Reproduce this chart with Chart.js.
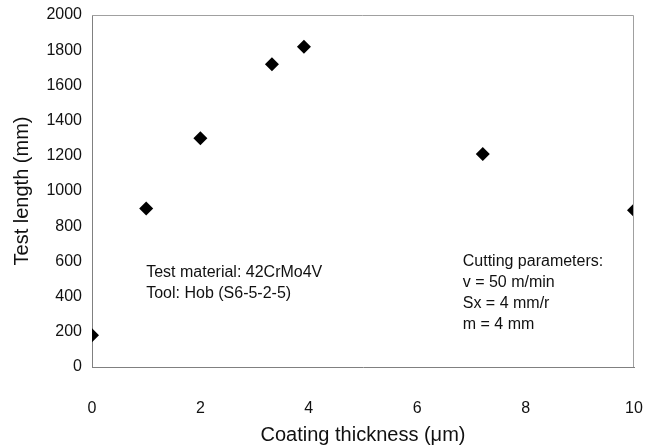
<!DOCTYPE html>
<html lang="en">
<head>
  <meta charset="UTF-8">
  <title>Test length vs coating thickness</title>
  <script src="https://cdn.jsdelivr.net/npm/chart.js"></script>
  <style>
    html, body { margin: 0; padding: 0; background: #fff; }
    #wrap { width: 653px; height: 448px; }
  </style>
</head>
<body>
  <div id="wrap"><canvas id="grafico"></canvas></div>

  <script>
    // datos
    var espesor = [0, 1, 2, 3.32, 3.91, 7.21, 10];
    var longitud = [180, 900, 1300, 1720, 1820, 1210, 890];
    var ticksX = [0, 2, 4, 6, 8, 10];
    var ticksY = [0, 200, 400, 600, 800, 1000, 1200, 1400, 1600, 1800, 2000];

    var notaIzq = ['Test material: 42CrMo4V', 'Tool: Hob (S6-5-2-5)'];
    var notaDer = ['Cutting parameters:', 'v = 50 m/min', 'Sx = 4 mm/r', 'm = 4 mm'];

    var puntos = [];
    for (var i = 0; i < espesor.length; i++) {
      puntos.push({ x: espesor[i], y: longitud[i] });
    }

    var fuente = '"Liberation Sans", Arial, sans-serif';

    // marco del area y textos dentro del grafico
    var extras = {
      id: 'extras',
      afterDraw: function (chart) {
        var ctx = chart.ctx;
        var a = chart.chartArea;
        var sx = chart.scales.x, sy = chart.scales.y;
        ctx.save();
        ctx.strokeStyle = '#a0a0a0';
        ctx.lineWidth = 1;
        ctx.beginPath();
        ctx.moveTo(a.left, a.top + 0.5);
        ctx.lineTo(a.right - 0.5, a.top + 0.5);
        ctx.lineTo(a.right - 0.5, a.bottom);
        ctx.stroke();

        ctx.fillStyle = '#111';
        ctx.font = '16px ' + fuente;
        ctx.textBaseline = 'middle';
        var x1 = sx.getPixelForValue(1.0), y1 = sy.getPixelForValue(536);
        for (var i = 0; i < notaIzq.length; i++) {
          ctx.fillText(notaIzq[i], x1, y1 + i * 21);
        }
        var x2 = sx.getPixelForValue(6.84), y2 = sy.getPixelForValue(598);
        for (var j = 0; j < notaDer.length; j++) {
          ctx.fillText(notaDer[j], x2, y2 + j * 21);
        }
        ctx.restore();
      }
    };

    new Chart(document.getElementById('grafico'), {
      type: 'scatter',
      data: {
        datasets: [{
          label: 'Test length',
          data: puntos,
          pointStyle: 'rectRot',
          pointRadius: 7,
          pointHoverRadius: 7,
          backgroundColor: '#000',
          borderColor: '#000',
          borderWidth: 0
        }]
      },
      options: {
        responsive: true,
        maintainAspectRatio: false,
        animation: false,
        layout: { padding: { top: 15, right: 19, left: 0, bottom: 0 } },
        plugins: {
          legend: { display: false },
          tooltip: { enabled: false }
        },
        scales: {
          x: {
            type: 'linear',
            min: 0,
            max: 10,
            afterBuildTicks: function (s) {
              s.ticks = ticksX.map(function (v) { return { value: v }; });
            },
            afterFit: function (s) {
              s.height = 81;
              s.paddingLeft = 0;
              s.paddingRight = 0;
            },
            grid: { display: false, drawTicks: false },
            border: { display: true, color: '#808080', width: 1 },
            ticks: {
              padding: 32,
              color: '#111',
              font: { family: fuente, size: 16 },
              callback: function (v) { return String(v); }
            },
            title: {
              display: true,
              text: 'Coating thickness (\u03bcm)',
              color: '#111',
              font: { family: fuente, size: 20 },
              padding: { top: 0, bottom: 1 }
            }
          },
          y: {
            min: 0,
            max: 2000,
            afterBuildTicks: function (s) {
              s.ticks = ticksY.map(function (v) { return { value: v }; });
            },
            afterFit: function (s) {
              s.width = 92;
              s.paddingTop = 0;
              s.paddingBottom = 0;
            },
            grid: { display: false, drawTicks: false },
            border: { display: true, color: '#808080', width: 1 },
            ticks: {
              padding: 10,
              color: '#111',
              font: { family: fuente, size: 16 },
              callback: function (v) { return String(v); }
            },
            title: {
              display: true,
              text: 'Test length (mm)',
              color: '#111',
              font: { family: fuente, size: 20 },
              padding: { top: 10, bottom: 0 }
            }
          }
        }
      },
      plugins: [extras]
    });
  </script>
</body>
</html>
